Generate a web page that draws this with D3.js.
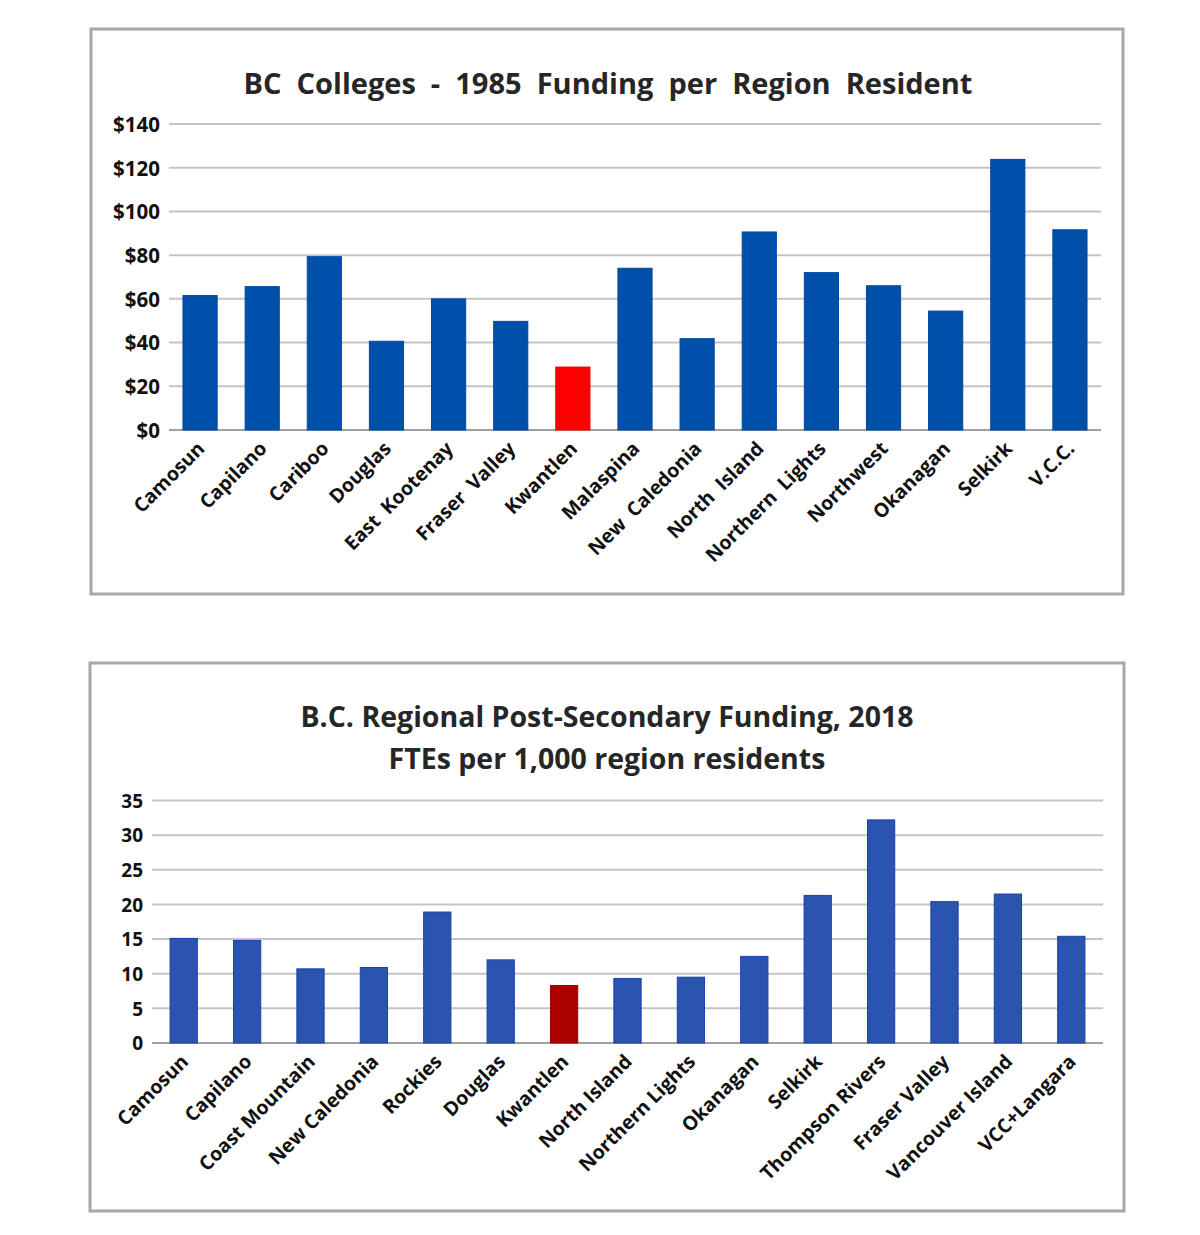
<!DOCTYPE html>
<html><head><meta charset="utf-8">
<script src="https://cdn.jsdelivr.net/npm/d3@7"></script>
<style>
body{margin:0;background:#fff;}
text{font-family:"Open Sans",Lato,sans-serif;font-weight:bold;}
</style></head>
<body><svg id="c" width="1200" height="1235"></svg>
<script>
const cats1985 = ["Camosun","Capilano","Cariboo","Douglas","East  Kootenay","Fraser  Valley","Kwantlen","Malaspina","New  Caledonia","North  Island","Northern  Lights","Northwest","Okanagan","Selkirk","V.C.C."];
const vals1985 = [61.5,65.6,79.3,40.6,60,49.7,28.8,74,41.8,90.6,72,66,54.4,123.8,91.6];
const ticks1985 = [0,20,40,60,80,100,120,140];

const cats2018 = ["Camosun","Capilano","Coast Mountain","New Caledonia","Rockies","Douglas","Kwantlen","North Island","Northern Lights","Okanagan","Selkirk","Thompson Rivers","Fraser Valley","Vancouver Island","VCC+Langara"];
const vals2018 = [15.1,14.8,10.7,10.9,18.9,12.0,8.3,9.3,9.5,12.5,21.3,32.2,20.4,21.5,15.4];
const ticks2018 = [0,5,10,15,20,25,30,35];

const highlight = "Kwantlen";
const svg = d3.select("#c");

function chart(o){
  svg.append("rect").attr("x",o.box[0]).attr("y",o.box[1]).attr("width",o.box[2]).attr("height",o.box[3])
    .attr("fill","#fff").attr("stroke","#a8a8a8").attr("stroke-width",3);
  o.titles.forEach((t,i)=>{
    svg.append("text").attr("x",o.titleX).attr("y",o.titleY[i]).attr("text-anchor","middle")
      .attr("font-size",o.titleSize).attr("fill","#262626").style("white-space","pre").text(t);
  });
  const x = d3.scaleBand().domain(o.cats).range([o.x0,o.x1]).paddingInner(o.pad).paddingOuter(o.pad/2);
  const y = d3.scaleLinear().domain([0,o.ticks[o.ticks.length-1]]).range([o.y0,o.y1]);
  const g = svg.append("g");
  g.append("g").selectAll("line").data(o.ticks).join("line")
    .attr("x1",o.x0).attr("x2",o.x1).attr("y1",d=>y(d)).attr("y2",d=>y(d))
    .attr("stroke",d=>d===0?"#a0a0a0":"#c4c4c4").attr("stroke-width",2);
  const ya = d3.axisLeft(y).tickValues(o.ticks).tickSize(0).tickPadding(o.tickPad).tickFormat(o.fmt);
  const yg = g.append("g").attr("transform",`translate(${o.x0},0)`).call(ya);
  yg.select(".domain").remove();
  yg.selectAll("text").attr("font-size",o.tickSize).attr("fill","#111").attr("dy","0.36em");
  g.append("g").selectAll("rect").data(o.cats).join("rect")
    .attr("x",d=>x(d)).attr("width",x.bandwidth())
    .attr("y",(d,i)=>y(o.vals[i])).attr("height",(d,i)=>y(0)-y(o.vals[i]))
    .attr("fill",d=>d===highlight?o.hi:o.col)
    .attr("stroke",d=>d===highlight?o.hiStroke:o.stroke).attr("stroke-width",1);
  const xa = d3.axisBottom(x).tickSize(0).tickPadding(0);
  const xg = g.append("g").attr("transform",`translate(0,${o.y0})`).call(xa);
  xg.select(".domain").remove();
  xg.selectAll("text").attr("font-size",o.labSize).attr("fill","#111")
    .style("white-space","pre")
    .attr("text-anchor","end").attr("dy","0.35em")
    .attr("transform",`translate(${o.labDx},${o.labDy}) rotate(-45)`);
}

chart({box:[91,29,1032,565], titles:["BC  Colleges  -  1985  Funding  per  Region  Resident"], titleX:608, titleY:[94], titleSize:29,
  cats:cats1985, vals:vals1985, ticks:ticks1985, x0:169, x1:1101, y0:430, y1:124, pad:0.45,
  fmt:d=>"$"+d, tickPad:9, tickSize:20.5, labSize:19.5, labDx:1, labDy:15,
  col:"#0050aa", stroke:"#0048a0", hi:"#ff0000", hiStroke:"#ee0000"});

chart({box:[90,663,1034,548], titles:["B.C. Regional Post-Secondary Funding, 2018","FTEs per 1,000 region residents"], titleX:607, titleY:[727,769], titleSize:28.5,
  cats:cats2018, vals:vals2018, ticks:ticks2018, x0:152, x1:1103, y0:1043, y1:800.5, pad:0.57,
  fmt:d=>d, tickPad:9, tickSize:19, labSize:19.5, labDx:1, labDy:15,
  col:"#2b54b0", stroke:"#1a40a8", hi:"#aa0000", hiStroke:"#990000"});
</script></body></html>
